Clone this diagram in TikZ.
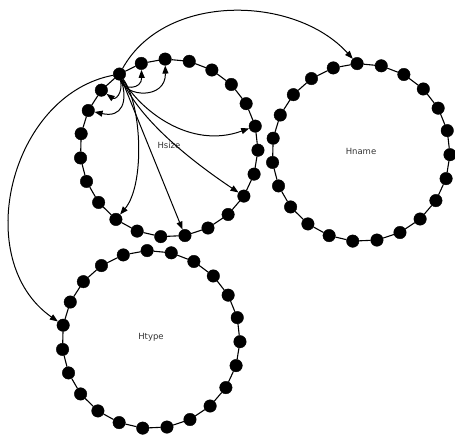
\documentclass[tikz,border=0pt]{standalone}
\usepackage{fontspec}
\setmainfont{DejaVu Sans}
\usetikzlibrary{arrows.meta}
\begin{document}
\begin{tikzpicture}[x=1pt,y=-1pt,
  dot/.style={circle,fill=black,draw=black,inner sep=0pt,minimum size=12.5pt},
  ring/.style={line width=1.1pt},
  arr/.style={line width=1pt,-{Triangle[length=8pt,width=6pt]}},
  lbl/.style={font=\fontsize{8.5}{10}\selectfont,text=black!80}]
\useasboundingbox (0,0) rectangle (455,436);
% rings
\foreach \nm/\cx/\cy in {s/169/148, n/361/152.5, t/151/339.5}{
  \foreach \i in {0,...,22}{
    \pgfmathsetmacro\a{92.5+\i*360/23}
    \node[dot] (\nm\i) at ({\cx+89*cos(\a)},{\cy-89*sin(\a)}) {};
  }
  \foreach \i [evaluate=\i as \j using {int(mod(\i+1,23))}] in {0,...,22}
    \draw[ring] (\nm\i) -- (\nm\j);
}
\node[lbl] (lsize) at (169,145) {Hsize};
\node[lbl] (lname) at (361,151) {Hname};
\node[lbl] (ltype) at (151,337) {Htype};
% arrows from source s2
\draw[arr] (s2) .. controls (165,-8) and (295,-5) .. (n0);
\draw[arr] (s2) .. controls (10,95) and (-30,260) .. (t5);
\draw[arr] (s2) .. controls (122,90) and (142,90) .. (s1);
\draw[arr] (s2) .. controls (125,97) and (166,100) .. (s0);
\draw[arr] (s2) .. controls (123,94) and (115,100) .. (s3);
\draw[arr] (s2) .. controls (128,102) and (122,118) .. (s4);
\draw[arr] (s2) .. controls (140,110) and (190,150) .. (s18);
\draw[arr] (s2) .. controls (140,120) and (190,160) .. (s15);
\draw[arr] (s2) -- (s12);
\draw[arr] (s2) .. controls (142,105) and (145,185) .. (s9);
\end{tikzpicture}
\end{document}
